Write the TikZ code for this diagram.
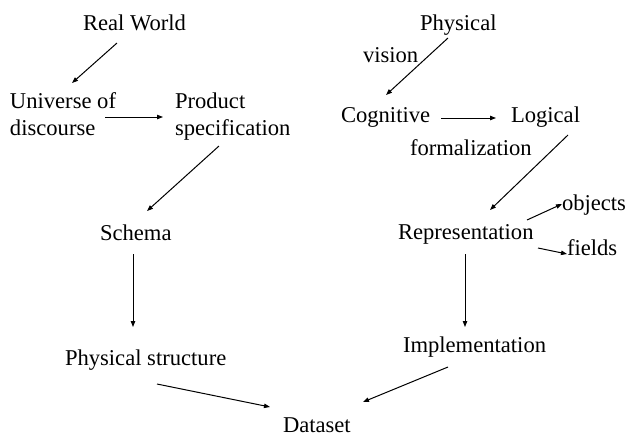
\documentclass[tikz,border=0pt]{standalone}
\usepackage{fontspec}
\setmainfont{Liberation Serif}
\usetikzlibrary{arrows.meta,calc}
\begin{document}
\begin{tikzpicture}[x=0.5pt,y=-0.5pt,
  lbl/.style={inner sep=0pt,outer sep=0pt,font=\fontsize{11.3}{13.5}\selectfont},
  flow/.style={line width=0.5pt,-{Triangle[length=3pt,width=2.2pt]}}]
  \fill[white] (0,0) rectangle (626,434);
  \useasboundingbox (0,0) rectangle (626,434);

  % left chain
  \node[lbl,anchor=base west] (rw) at (83,30) {Real World};
  \node[lbl,anchor=north west,align=left] (uni) at (10,92.5) {Universe of\\discourse};
  \node[lbl,anchor=north west,align=left] (prod) at (175,92.5) {Product\\specification};
  \node[lbl,anchor=base west] (sch) at (100,240) {Schema};
  \node[lbl,anchor=base west] (phs) at (65,365) {Physical structure};
  \node[lbl,anchor=base west] (ds) at (283,432) {Dataset};

  % right chain
  \node[lbl,anchor=base west] (phy) at (420,30) {Physical};
  \node[lbl,anchor=base west] (vis) at (363,62) {vision};
  \node[lbl,anchor=base west] (cog) at (341,122) {Cognitive};
  \node[lbl,anchor=base west] (log) at (511,122) {Logical};
  \node[lbl,anchor=base west] (frm) at (410,155) {formalization};
  \node[lbl,anchor=base west] (rep) at (398,239) {Representation};
  \node[lbl,anchor=base west] (obj) at (562,210) {objects};
  \node[lbl,anchor=base west] (fld) at (567,255) {fields};
  \node[lbl,anchor=base west] (imp) at (403,352) {Implementation};

  % connectors, left
  \draw[flow] ($(rw.base west)+(34,13)$) -- ($(uni.north west)+(62,-9.5)$);
  \draw[flow] ($(uni.north west)+(95,24.5)$) -- ($(prod.north west)+(-12,24.5)$);
  \draw[flow] ($(prod.north west)+(44,53.5)$) -- ($(sch.base west)+(47,-29)$);
  \draw[flow] ($(sch.base west)+(33,14)$) -- ($(phs.base west)+(68,-38)$);
  \draw[flow] ($(phs.base west)+(92,19)$) -- ($(ds.base west)+(-13,-25)$);

  % connectors, right
  \draw[flow] ($(phy.base west)+(28,8)$) -- ($(cog.base west)+(45,-27)$);
  \draw[flow] ($(cog.base west)+(100,-4)$) -- ($(log.base west)+(-15,-4)$);
  \draw[flow] ($(log.base west)+(57,13)$) -- ($(rep.base west)+(92,-29)$);
  \draw[flow] ($(rep.base west)+(129,-19)$) -- ($(obj.base west)+(0,-6)$);
  \draw[flow] ($(rep.base west)+(140,9)$) -- ($(fld.base west)+(0,-1)$);
  \draw[flow] ($(rep.base west)+(67,15)$) -- ($(imp.base west)+(62,-25)$);
  \draw[flow] ($(imp.base west)+(45,15)$) -- ($(ds.base west)+(80,-30)$);
\end{tikzpicture}
\end{document}
